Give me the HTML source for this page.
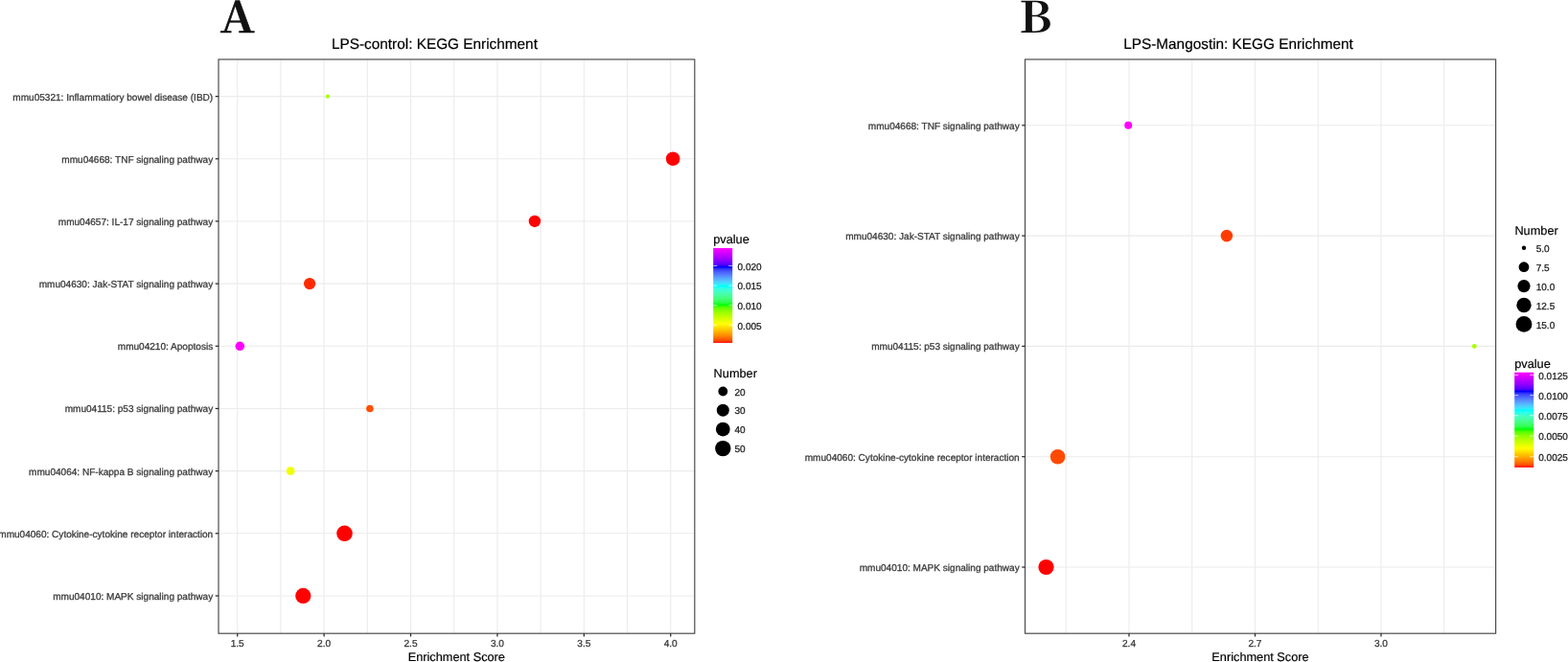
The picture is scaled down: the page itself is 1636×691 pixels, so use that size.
<!DOCTYPE html><html><head><meta charset="utf-8"><title>KEGG Enrichment</title><style>
html,body{margin:0;padding:0;background:#fff;width:1636px;height:691px;overflow:hidden}
svg{display:block}
.g{stroke:#ebebeb;stroke-width:1.1;fill:none}
.b{stroke:#4d4d4d;stroke-width:1.2;fill:none}
.t{stroke:#262626;stroke-width:1.25}
.wt{stroke:#fff;stroke-width:0.8;stroke-opacity:0.85}
text{font-family:"Liberation Sans",Arial,Helvetica,sans-serif;text-rendering:geometricPrecision}
.ax{font-size:10.05px;fill:#3c3c3c;stroke:#3c3c3c;stroke-width:0.3px}
.tt{font-size:12.75px;fill:#000;stroke:#000;stroke-width:0.2px}
.axx{font-size:10.1px;fill:#3c3c3c;stroke:#3c3c3c;stroke-width:0.3px}
.lg{font-size:10.05px;fill:#1a1a1a;stroke:#1a1a1a;stroke-width:0.25px}
.pt{font-size:15.35px;fill:#000;stroke:#000;stroke-width:0.2px}
.big{font-family:"Noto Serif CJK SC","Liberation Serif",serif;font-weight:700;font-size:45px;fill:#111;stroke:#111;stroke-width:0.5px}
</style></head><body>
<svg width="1636" height="691" viewBox="0 0 1636 691">
<defs>
<linearGradient id="ga" x1="0" y1="1" x2="0" y2="0"><stop offset="0.000" stop-color="#ff0000"/><stop offset="0.020" stop-color="#ff4100"/><stop offset="0.040" stop-color="#ff5f00"/><stop offset="0.060" stop-color="#ff7700"/><stop offset="0.080" stop-color="#ff8d00"/><stop offset="0.100" stop-color="#ffa100"/><stop offset="0.120" stop-color="#ffb500"/><stop offset="0.140" stop-color="#ffc800"/><stop offset="0.160" stop-color="#ffdb00"/><stop offset="0.180" stop-color="#ffed00"/><stop offset="0.200" stop-color="#ffff00"/><stop offset="0.220" stop-color="#f0ff00"/><stop offset="0.240" stop-color="#e1ff00"/><stop offset="0.260" stop-color="#d0ff00"/><stop offset="0.280" stop-color="#c0ff00"/><stop offset="0.300" stop-color="#aeff00"/><stop offset="0.320" stop-color="#9bff00"/><stop offset="0.340" stop-color="#85ff00"/><stop offset="0.360" stop-color="#6dff00"/><stop offset="0.380" stop-color="#4cff00"/><stop offset="0.400" stop-color="#00ff00"/><stop offset="0.420" stop-color="#26ff3c"/><stop offset="0.440" stop-color="#35ff59"/><stop offset="0.460" stop-color="#3eff71"/><stop offset="0.480" stop-color="#43ff87"/><stop offset="0.500" stop-color="#46ff9c"/><stop offset="0.520" stop-color="#45ffb0"/><stop offset="0.540" stop-color="#42ffc4"/><stop offset="0.560" stop-color="#3affd8"/><stop offset="0.580" stop-color="#2bffeb"/><stop offset="0.600" stop-color="#00ffff"/><stop offset="0.620" stop-color="#38e9ff"/><stop offset="0.640" stop-color="#4ad3ff"/><stop offset="0.660" stop-color="#53beff"/><stop offset="0.680" stop-color="#57a8ff"/><stop offset="0.700" stop-color="#5792ff"/><stop offset="0.720" stop-color="#547cff"/><stop offset="0.740" stop-color="#4d66ff"/><stop offset="0.760" stop-color="#424eff"/><stop offset="0.780" stop-color="#3032ff"/><stop offset="0.800" stop-color="#0000ff"/><stop offset="0.820" stop-color="#4a00ff"/><stop offset="0.840" stop-color="#6900ff"/><stop offset="0.860" stop-color="#8200ff"/><stop offset="0.880" stop-color="#9800ff"/><stop offset="0.900" stop-color="#ab00ff"/><stop offset="0.920" stop-color="#bd00ff"/><stop offset="0.940" stop-color="#ce00ff"/><stop offset="0.960" stop-color="#df00ff"/><stop offset="0.980" stop-color="#ef00ff"/><stop offset="1.000" stop-color="#ff00ff"/></linearGradient>
<linearGradient id="gb" x1="0" y1="1" x2="0" y2="0"><stop offset="0.000" stop-color="#ff0000"/><stop offset="0.020" stop-color="#ff4100"/><stop offset="0.040" stop-color="#ff5f00"/><stop offset="0.060" stop-color="#ff7700"/><stop offset="0.080" stop-color="#ff8d00"/><stop offset="0.100" stop-color="#ffa100"/><stop offset="0.120" stop-color="#ffb500"/><stop offset="0.140" stop-color="#ffc800"/><stop offset="0.160" stop-color="#ffdb00"/><stop offset="0.180" stop-color="#ffed00"/><stop offset="0.200" stop-color="#ffff00"/><stop offset="0.220" stop-color="#f0ff00"/><stop offset="0.240" stop-color="#e1ff00"/><stop offset="0.260" stop-color="#d0ff00"/><stop offset="0.280" stop-color="#c0ff00"/><stop offset="0.300" stop-color="#aeff00"/><stop offset="0.320" stop-color="#9bff00"/><stop offset="0.340" stop-color="#85ff00"/><stop offset="0.360" stop-color="#6dff00"/><stop offset="0.380" stop-color="#4cff00"/><stop offset="0.400" stop-color="#00ff00"/><stop offset="0.420" stop-color="#26ff3c"/><stop offset="0.440" stop-color="#35ff59"/><stop offset="0.460" stop-color="#3eff71"/><stop offset="0.480" stop-color="#43ff87"/><stop offset="0.500" stop-color="#46ff9c"/><stop offset="0.520" stop-color="#45ffb0"/><stop offset="0.540" stop-color="#42ffc4"/><stop offset="0.560" stop-color="#3affd8"/><stop offset="0.580" stop-color="#2bffeb"/><stop offset="0.600" stop-color="#00ffff"/><stop offset="0.620" stop-color="#38e9ff"/><stop offset="0.640" stop-color="#4ad3ff"/><stop offset="0.660" stop-color="#53beff"/><stop offset="0.680" stop-color="#57a8ff"/><stop offset="0.700" stop-color="#5792ff"/><stop offset="0.720" stop-color="#547cff"/><stop offset="0.740" stop-color="#4d66ff"/><stop offset="0.760" stop-color="#424eff"/><stop offset="0.780" stop-color="#3032ff"/><stop offset="0.800" stop-color="#0000ff"/><stop offset="0.820" stop-color="#4a00ff"/><stop offset="0.840" stop-color="#6900ff"/><stop offset="0.860" stop-color="#8200ff"/><stop offset="0.880" stop-color="#9800ff"/><stop offset="0.900" stop-color="#ab00ff"/><stop offset="0.920" stop-color="#bd00ff"/><stop offset="0.940" stop-color="#ce00ff"/><stop offset="0.960" stop-color="#df00ff"/><stop offset="0.980" stop-color="#ef00ff"/><stop offset="1.000" stop-color="#ff00ff"/></linearGradient>
</defs>
<rect width="1636" height="691" fill="#fff"/>
<line x1="292.9" y1="62.0" x2="292.9" y2="661.2" class="g"/>
<line x1="383.3" y1="62.0" x2="383.3" y2="661.2" class="g"/>
<line x1="473.7" y1="62.0" x2="473.7" y2="661.2" class="g"/>
<line x1="564.1" y1="62.0" x2="564.1" y2="661.2" class="g"/>
<line x1="654.5" y1="62.0" x2="654.5" y2="661.2" class="g"/>
<line x1="247.7" y1="62.0" x2="247.7" y2="661.2" class="g"/>
<line x1="338.1" y1="62.0" x2="338.1" y2="661.2" class="g"/>
<line x1="428.5" y1="62.0" x2="428.5" y2="661.2" class="g"/>
<line x1="518.9" y1="62.0" x2="518.9" y2="661.2" class="g"/>
<line x1="609.3" y1="62.0" x2="609.3" y2="661.2" class="g"/>
<line x1="699.7" y1="62.0" x2="699.7" y2="661.2" class="g"/>
<line x1="228" y1="100.6" x2="724.8" y2="100.6" class="g"/>
<line x1="228" y1="165.77" x2="724.8" y2="165.77" class="g"/>
<line x1="228" y1="230.94" x2="724.8" y2="230.94" class="g"/>
<line x1="228" y1="296.11" x2="724.8" y2="296.11" class="g"/>
<line x1="228" y1="361.28" x2="724.8" y2="361.28" class="g"/>
<line x1="228" y1="426.45" x2="724.8" y2="426.45" class="g"/>
<line x1="228" y1="491.62" x2="724.8" y2="491.62" class="g"/>
<line x1="228" y1="556.79" x2="724.8" y2="556.79" class="g"/>
<line x1="228" y1="621.96" x2="724.8" y2="621.96" class="g"/>
<circle cx="341.9" cy="100.6" r="2.2" fill="#aaff00"/>
<circle cx="702.1" cy="165.77" r="7.3" fill="#ff0000"/>
<circle cx="557.9" cy="230.94" r="6.2" fill="#ff0000"/>
<circle cx="323.1" cy="296.11" r="6.15" fill="#ff2a00"/>
<circle cx="250.3" cy="361.28" r="4.8" fill="#ff00ff"/>
<circle cx="385.9" cy="426.45" r="3.8" fill="#ff5000"/>
<circle cx="303.1" cy="491.62" r="4.4" fill="#f0ff00"/>
<circle cx="359.5" cy="556.79" r="8.3" fill="#ff0000"/>
<circle cx="316.3" cy="621.96" r="8.1" fill="#ff0000"/>
<rect x="228" y="62.0" width="496.80" height="599.20" class="b"/>
<line x1="224.70" y1="100.6" x2="228" y2="100.6" class="t"/>
<text x="222.20" y="104.60" class="ax" text-anchor="end">mmu05321: Inflammatiory bowel disease (IBD)</text>
<line x1="224.70" y1="165.77" x2="228" y2="165.77" class="t"/>
<text x="222.20" y="169.77" class="ax" text-anchor="end">mmu04668: TNF signaling pathway</text>
<line x1="224.70" y1="230.94" x2="228" y2="230.94" class="t"/>
<text x="222.20" y="234.94" class="ax" text-anchor="end">mmu04657: IL-17 signaling pathway</text>
<line x1="224.70" y1="296.11" x2="228" y2="296.11" class="t"/>
<text x="222.20" y="300.11" class="ax" text-anchor="end">mmu04630: Jak-STAT signaling pathway</text>
<line x1="224.70" y1="361.28" x2="228" y2="361.28" class="t"/>
<text x="222.20" y="365.28" class="ax" text-anchor="end">mmu04210: Apoptosis</text>
<line x1="224.70" y1="426.45" x2="228" y2="426.45" class="t"/>
<text x="222.20" y="430.45" class="ax" text-anchor="end">mmu04115: p53 signaling pathway</text>
<line x1="224.70" y1="491.62" x2="228" y2="491.62" class="t"/>
<text x="222.20" y="495.62" class="ax" text-anchor="end">mmu04064: NF-kappa B signaling pathway</text>
<line x1="224.70" y1="556.79" x2="228" y2="556.79" class="t"/>
<text x="222.20" y="560.79" class="ax" text-anchor="end">mmu04060: Cytokine-cytokine receptor interaction</text>
<line x1="224.70" y1="621.96" x2="228" y2="621.96" class="t"/>
<text x="222.20" y="625.96" class="ax" text-anchor="end">mmu04010: MAPK signaling pathway</text>
<line x1="247.7" y1="661.2" x2="247.7" y2="664.50" class="t"/>
<text x="247.7" y="675.00" class="axx" text-anchor="middle">1.5</text>
<line x1="338.1" y1="661.2" x2="338.1" y2="664.50" class="t"/>
<text x="338.1" y="675.00" class="axx" text-anchor="middle">2.0</text>
<line x1="428.5" y1="661.2" x2="428.5" y2="664.50" class="t"/>
<text x="428.5" y="675.00" class="axx" text-anchor="middle">2.5</text>
<line x1="518.9" y1="661.2" x2="518.9" y2="664.50" class="t"/>
<text x="518.9" y="675.00" class="axx" text-anchor="middle">3.0</text>
<line x1="609.3" y1="661.2" x2="609.3" y2="664.50" class="t"/>
<text x="609.3" y="675.00" class="axx" text-anchor="middle">3.5</text>
<line x1="699.7" y1="661.2" x2="699.7" y2="664.50" class="t"/>
<text x="699.7" y="675.00" class="axx" text-anchor="middle">4.0</text>
<text x="476.3" y="689.6" class="tt" text-anchor="middle">Enrichment Score</text>
<text x="346.0" y="50.8" class="pt">LPS-control: KEGG Enrichment</text>
<line x1="1112.26" y1="62.0" x2="1112.26" y2="661.2" class="g"/>
<line x1="1243.74" y1="62.0" x2="1243.74" y2="661.2" class="g"/>
<line x1="1375.24" y1="62.0" x2="1375.24" y2="661.2" class="g"/>
<line x1="1506.72" y1="62.0" x2="1506.72" y2="661.2" class="g"/>
<line x1="1178.0" y1="62.0" x2="1178.0" y2="661.2" class="g"/>
<line x1="1309.49" y1="62.0" x2="1309.49" y2="661.2" class="g"/>
<line x1="1440.98" y1="62.0" x2="1440.98" y2="661.2" class="g"/>
<line x1="1069.5" y1="130.8" x2="1560.6" y2="130.8" class="g"/>
<line x1="1069.5" y1="246.1" x2="1560.6" y2="246.1" class="g"/>
<line x1="1069.5" y1="361.4" x2="1560.6" y2="361.4" class="g"/>
<line x1="1069.5" y1="476.7" x2="1560.6" y2="476.7" class="g"/>
<line x1="1069.5" y1="592.0" x2="1560.6" y2="592.0" class="g"/>
<circle cx="1177.2" cy="130.8" r="4.0" fill="#ff00ff"/>
<circle cx="1279.9" cy="246.1" r="6.3" fill="#ff3c00"/>
<circle cx="1538.3" cy="361.4" r="2.4" fill="#aaff00"/>
<circle cx="1103.6" cy="476.7" r="7.8" fill="#ff4a00"/>
<circle cx="1091.5" cy="592.0" r="8.1" fill="#ff0000"/>
<rect x="1069.5" y="62.0" width="491.10" height="599.20" class="b"/>
<line x1="1066.20" y1="130.8" x2="1069.5" y2="130.8" class="t"/>
<text x="1063.70" y="134.80" class="ax" text-anchor="end">mmu04668: TNF signaling pathway</text>
<line x1="1066.20" y1="246.1" x2="1069.5" y2="246.1" class="t"/>
<text x="1063.70" y="250.10" class="ax" text-anchor="end">mmu04630: Jak-STAT signaling pathway</text>
<line x1="1066.20" y1="361.4" x2="1069.5" y2="361.4" class="t"/>
<text x="1063.70" y="365.40" class="ax" text-anchor="end">mmu04115: p53 signaling pathway</text>
<line x1="1066.20" y1="476.7" x2="1069.5" y2="476.7" class="t"/>
<text x="1063.70" y="480.70" class="ax" text-anchor="end">mmu04060: Cytokine-cytokine receptor interaction</text>
<line x1="1066.20" y1="592.0" x2="1069.5" y2="592.0" class="t"/>
<text x="1063.70" y="596.00" class="ax" text-anchor="end">mmu04010: MAPK signaling pathway</text>
<line x1="1178.0" y1="661.2" x2="1178.0" y2="664.50" class="t"/>
<text x="1178.0" y="675.00" class="axx" text-anchor="middle">2.4</text>
<line x1="1309.49" y1="661.2" x2="1309.49" y2="664.50" class="t"/>
<text x="1309.49" y="675.00" class="axx" text-anchor="middle">2.7</text>
<line x1="1440.98" y1="661.2" x2="1440.98" y2="664.50" class="t"/>
<text x="1440.98" y="675.00" class="axx" text-anchor="middle">3.0</text>
<text x="1315" y="689.6" class="tt" text-anchor="middle">Enrichment Score</text>
<text x="1172.2" y="50.8" class="pt">LPS-Mangostin: KEGG Enrichment</text>
<text class="big" transform="translate(229.6,34.4) scale(1.08,1)">A</text>
<text class="big" style="stroke-width:0" transform="translate(1063.3,34.15) scale(1.075,1)">B</text>
<text x="744.2" y="254.0" class="tt">pvalue</text>
<rect x="744.2" y="258.9" width="20" height="99.00" fill="url(#ga)"/>
<line x1="744.2" y1="277.45" x2="748.2" y2="277.45" class="wt"/>
<line x1="760.2" y1="277.45" x2="764.2" y2="277.45" class="wt"/>
<text x="769.5" y="281.65" class="lg">0.020</text>
<line x1="744.2" y1="298.1" x2="748.2" y2="298.1" class="wt"/>
<line x1="760.2" y1="298.1" x2="764.2" y2="298.1" class="wt"/>
<text x="769.5" y="302.30" class="lg">0.015</text>
<line x1="744.2" y1="318.75" x2="748.2" y2="318.75" class="wt"/>
<line x1="760.2" y1="318.75" x2="764.2" y2="318.75" class="wt"/>
<text x="769.5" y="322.95" class="lg">0.010</text>
<line x1="744.2" y1="339.4" x2="748.2" y2="339.4" class="wt"/>
<line x1="760.2" y1="339.4" x2="764.2" y2="339.4" class="wt"/>
<text x="769.5" y="343.60" class="lg">0.005</text>
<text x="744.6" y="394.2" class="tt">Number</text>
<circle cx="754.3" cy="408.5" r="4.9" fill="#000"/>
<text x="766.5" y="412.70" class="lg">20</text>
<circle cx="754.3" cy="428.2" r="6.5" fill="#000"/>
<text x="766.5" y="432.40" class="lg">30</text>
<circle cx="754.3" cy="448.1" r="7.4" fill="#000"/>
<text x="766.5" y="452.30" class="lg">40</text>
<circle cx="754.3" cy="468.1" r="8.2" fill="#000"/>
<text x="766.5" y="472.30" class="lg">50</text>
<text x="1580.4" y="244.6" class="tt">Number</text>
<circle cx="1590" cy="258.8" r="2.2" fill="#000"/>
<text x="1602.7" y="263.00" class="lg">5.0</text>
<circle cx="1590" cy="278.7" r="5.4" fill="#000"/>
<text x="1602.7" y="282.90" class="lg">7.5</text>
<circle cx="1590" cy="298.6" r="6.6" fill="#000"/>
<text x="1602.7" y="302.80" class="lg">10.0</text>
<circle cx="1590" cy="318.5" r="7.7" fill="#000"/>
<text x="1602.7" y="322.70" class="lg">12.5</text>
<circle cx="1590" cy="338.4" r="8.4" fill="#000"/>
<text x="1602.7" y="342.60" class="lg">15.0</text>
<text x="1580.2" y="383.9" class="tt">pvalue</text>
<rect x="1580.2" y="388.7" width="20" height="99.20" fill="url(#gb)"/>
<line x1="1580.2" y1="391.4" x2="1584.2" y2="391.4" class="wt"/>
<line x1="1596.2" y1="391.4" x2="1600.2" y2="391.4" class="wt"/>
<text x="1605.2" y="395.60" class="lg">0.0125</text>
<line x1="1580.2" y1="412.6" x2="1584.2" y2="412.6" class="wt"/>
<line x1="1596.2" y1="412.6" x2="1600.2" y2="412.6" class="wt"/>
<text x="1605.2" y="416.80" class="lg">0.0100</text>
<line x1="1580.2" y1="433.8" x2="1584.2" y2="433.8" class="wt"/>
<line x1="1596.2" y1="433.8" x2="1600.2" y2="433.8" class="wt"/>
<text x="1605.2" y="438.00" class="lg">0.0075</text>
<line x1="1580.2" y1="455.1" x2="1584.2" y2="455.1" class="wt"/>
<line x1="1596.2" y1="455.1" x2="1600.2" y2="455.1" class="wt"/>
<text x="1605.2" y="459.30" class="lg">0.0050</text>
<line x1="1580.2" y1="476.7" x2="1584.2" y2="476.7" class="wt"/>
<line x1="1596.2" y1="476.7" x2="1600.2" y2="476.7" class="wt"/>
<text x="1605.2" y="480.90" class="lg">0.0025</text>
</svg></body></html>
